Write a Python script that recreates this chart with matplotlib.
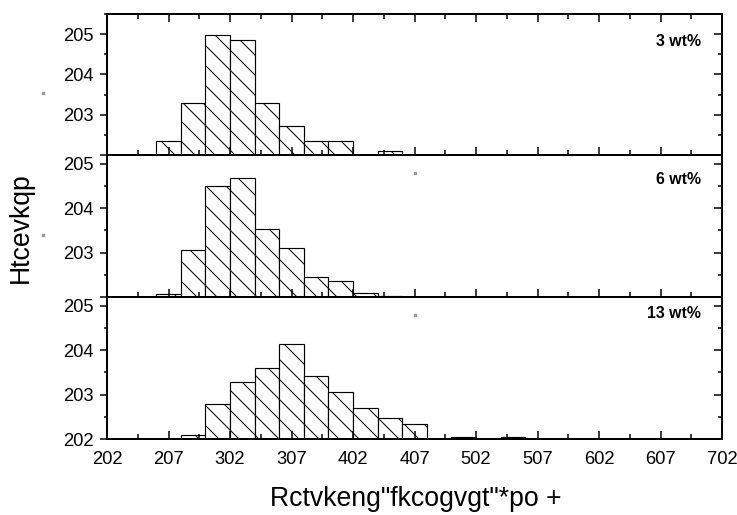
import matplotlib
matplotlib.use("Agg")
import matplotlib.pyplot as plt
from matplotlib.ticker import MultipleLocator, FixedLocator
from matplotlib.lines import Line2D

plt.rcParams['font.family'] = ['Liberation Sans', 'DejaVu Sans']
plt.rcParams['hatch.linewidth'] = 0.6
plt.rcParams['hatch.color'] = 'black'

# Histogram data: bin left edges (width 0.2) and fractions per panel
bin_width = 0.2
lefts_3 = [0.4, 0.6, 0.8, 1.0, 1.2, 1.4, 1.6, 1.8, 2.2]
frac_3 = [0.035, 0.130, 0.298, 0.286, 0.130, 0.071, 0.035, 0.035, 0.010]

lefts_6 = [0.4, 0.6, 0.8, 1.0, 1.2, 1.4, 1.6, 1.8, 2.0, 2.2]
frac_6 = [0.007, 0.107, 0.251, 0.268, 0.153, 0.111, 0.044, 0.037, 0.010, 0.003]

lefts_13 = [0.6, 0.8, 1.0, 1.2, 1.4, 1.6, 1.8, 2.0, 2.2, 2.4, 2.8, 3.2]
frac_13 = [0.010, 0.078, 0.128, 0.159, 0.215, 0.143, 0.105, 0.070, 0.047, 0.034, 0.004, 0.004]

panel_labels = ['3 wt%', '6 wt%', '13 wt%']
y_limits = [0.35, 0.32, 0.32]
label_ypos = [0.808, 0.824, 0.884]

x_ticks = [0.0, 0.5, 1.0, 1.5, 2.0, 2.5, 3.0, 3.5, 4.0, 4.5, 5.0]
x_tick_labels = ['202', '207', '302', '307', '402', '407', '502', '507', '602', '607', '702']
y_ticks = [0.0, 0.1, 0.2, 0.3]
y_tick_labels = ['202', '203', '204', '205']

y_title = 'Htcevkqp'
x_title = 'Rctvkeng"fkcogvgt"*po +'

W, H, DPI = 737, 515, 120
fig = plt.figure(figsize=(W / DPI, H / DPI), dpi=DPI)

left_px, right_px = 107, 722
panel_px = [(14, 155), (155, 297), (297, 439)]

series = [(lefts_3, frac_3), (lefts_6, frac_6), (lefts_13, frac_13)]

for i, ((top_px, bot_px), (lefts, fracs)) in enumerate(zip(panel_px, series)):
    ax = fig.add_axes([left_px / W, 1 - bot_px / H,
                       (right_px - left_px) / W, (bot_px - top_px) / H])
    ax.bar(lefts, fracs, width=bin_width, align='edge', facecolor='white',
           edgecolor='black', linewidth=0.7, hatch='\\\\')
    ax.set_xlim(0, 5)
    ax.set_ylim(0, y_limits[i])

    for sp in ax.spines.values():
        sp.set_linewidth(1.2)
    ax.spines['right'].set_visible(False)

    # x ticks
    ax.xaxis.set_major_locator(FixedLocator(x_ticks))
    ax.xaxis.set_minor_locator(MultipleLocator(0.25))
    ax.tick_params(axis='x', which='major', direction='in', length=4.8, width=0.9,
                   top=(i == 0), bottom=True)
    ax.tick_params(axis='x', which='minor', direction='in', length=2.8, width=0.9,
                   top=(i == 0), bottom=True)
    if i == 2:
        ax.set_xticklabels(x_tick_labels)
        ax.tick_params(axis='x', labelsize=11, pad=7)
    else:
        ax.tick_params(axis='x', labelbottom=False)

    # left y ticks (outward)
    ax.yaxis.set_major_locator(FixedLocator(y_ticks))
    ax.yaxis.set_minor_locator(MultipleLocator(0.05))
    labels = list(y_tick_labels)
    if i < 2:
        labels[0] = ''
    ax.set_yticklabels(labels)
    ax.tick_params(axis='y', which='major', direction='out', length=4.2, width=0.9,
                   labelsize=11, pad=4, right=False)
    ax.tick_params(axis='y', which='minor', direction='out', length=2.1, width=0.9,
                   right=False)

    # right y ticks (inward)
    sec = ax.secondary_yaxis('right')
    sec.spines['right'].set_linewidth(1.2)
    sec.yaxis.set_major_locator(FixedLocator(y_ticks))
    sec.yaxis.set_minor_locator(MultipleLocator(0.05))
    sec.tick_params(axis='y', which='major', direction='in', length=4.8, width=0.9,
                    labelright=False)
    sec.tick_params(axis='y', which='minor', direction='in', length=2.6, width=0.9)

    ax.text(0.9654, label_ypos[i], panel_labels[i], transform=ax.transAxes,
            ha='right', va='center', fontsize=9.5, fontweight='bold')

# axis titles
fig.text(21 / W, 1 - 228 / H, y_title, rotation=90, ha='center', va='center',
         fontsize=16)
fig.text(416 / W, 1 - 506 / H, x_title, ha='center', va='baseline', fontsize=16)

# small grey specks
for (px, py) in [(42.7, 92.7), (42.7, 235), (415, 173.5), (415, 314.5)]:
    fig.add_artist(Line2D([px / W], [1 - py / H], marker='s', markersize=1.0,
                          color='#999999', linestyle='none',
                          transform=fig.transFigure))

fig.savefig('out.png', dpi=DPI)
